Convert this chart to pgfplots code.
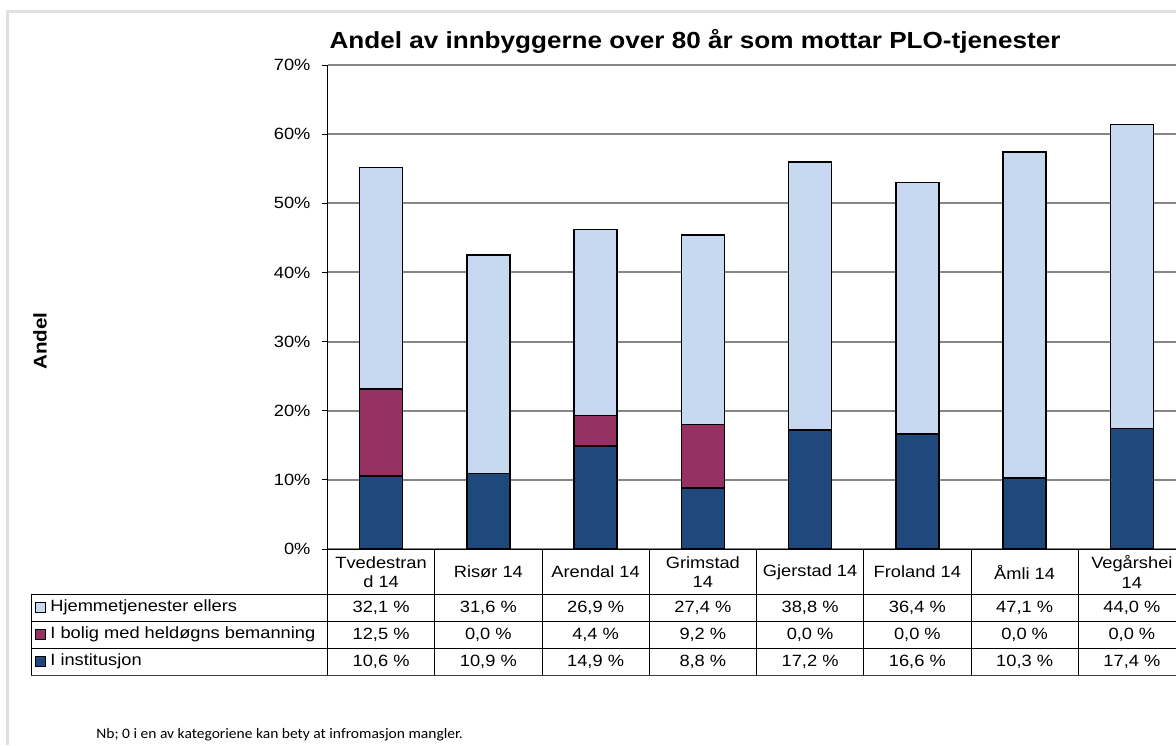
\documentclass[border=0pt]{standalone}
\usepackage{pgfplots}
\pgfplotsset{compat=1.18}
\usepackage{fontspec}
\setmainfont{Liberation Sans}[FakeStretch=1.12]
\newfontfamily\notefont{Carlito}[FakeStretch=1.07]

\definecolor{inst}{HTML}{1F497D}
\definecolor{bolig}{HTML}{953163}
\definecolor{hjem}{HTML}{C6D9F1}
\definecolor{framec}{HTML}{E0E0E0}
\definecolor{gridc}{HTML}{868686}

% andel av innbyggere over 80 (prosent)
\pgfplotstableread{
x inst bolig hjem
0 10.6 12.5 32.1
1 10.9 0.0 31.6
2 14.9 4.4 26.9
3 8.8 9.2 27.4
4 17.2 0.0 38.8
5 16.6 0.0 36.4
6 10.3 0.0 47.1
7 17.4 0.0 44.0
}\plodata

\newcommand{\bodyfont}{\fontsize{8.15}{9.6}\selectfont}

\begin{document}
\begin{tikzpicture}[x=0.5pt,y=0.5pt]
\useasboundingbox (0,0) rectangle (1176,745);
\fill[white] (0,0) rectangle (1176,745);
\draw[framec, line width=1.2pt] (7.5,0) -- (7.5,733.5) -- (1176,733.5);

\node[font=\fontsize{11.65}{14}\selectfont\bfseries, anchor=base] at (695,745-49)
  {Andel av innbyggerne over 80 år som mottar PLO-tjenester};
\node[font=\fontsize{9.2}{11}\selectfont\bfseries, rotate=90] at (40,745-341) {Andel};

\coordinate (O) at (327.5,196);

\begin{axis}[
    at={(O)}, anchor=south west,
    scale only axis,
    width=429pt, height=242pt,
    xmin=-0.5, xmax=7.5,
    ymin=0, ymax=70,
    ybar stacked,
    bar width=21.5pt,
    xtick=\empty,
    ytick={0,10,...,70},
    yticklabel={\pgfmathprintnumber{\tick}\%},
    /pgf/number format/assume math mode=true,
    ticklabel style={font=\bodyfont},
    yticklabel style={xshift=-2pt},
    ytick pos=left,
    tick align=outside,
    major tick length=3pt,
    tick style={black, line width=0.5pt},
    ymajorgrids,
    grid style={gridc, line width=1pt},
    axis line style={black, line width=0.5pt},
    axis x line*=bottom,
    axis y line*=left,
    clip=false,
]
\addplot[fill=inst, draw=black, line width=0.8pt] table[x=x, y=inst] {\plodata};
\addplot[fill=bolig, draw=black, line width=0.8pt] table[x=x, y=bolig] {\plodata};
\addplot[fill=hjem, draw=black, line width=0.8pt] table[x=x, y=hjem] {\plodata};
\end{axis}

% datatabell under diagrammet
\begin{scope}[line width=0.5pt]
\foreach \i in {0,...,8}
  \draw (327.5+\i*107.25, 745-549) -- (327.5+\i*107.25, 745-675);
\foreach \yy in {594,621,648}
  \draw (31,745-\yy) -- (1176,745-\yy);
\draw[line width=0.8pt, black!75] (31,745-675.5) -- (1176,745-675.5);
\draw (31,745-594) -- (31,745-675);
\end{scope}

\foreach \name [count=\i from 0] in {{Tvedestran\\d 14},{Risør 14},{Arendal 14},{Grimstad\\14},{Gjerstad 14},{Froland 14},{Åmli 14},{Vegårshei\\14}}
  \node[font=\bodyfont, align=center, inner sep=0pt] at (327.5+107.25*\i+53.6, 745-572) {\name};

\foreach \v [count=\i from 0] in {{32,1 \%},{31,6 \%},{26,9 \%},{27,4 \%},{38,8 \%},{36,4 \%},{47,1 \%},{44,0 \%}}
  \node[font=\bodyfont, inner sep=0pt] at (327.5+107.25*\i+53.6, 745-607.5) {\v};
\foreach \v [count=\i from 0] in {{12,5 \%},{0,0 \%},{4,4 \%},{9,2 \%},{0,0 \%},{0,0 \%},{0,0 \%},{0,0 \%}}
  \node[font=\bodyfont, inner sep=0pt] at (327.5+107.25*\i+53.6, 745-634.5) {\v};
\foreach \v [count=\i from 0] in {{10,6 \%},{10,9 \%},{14,9 \%},{8,8 \%},{17,2 \%},{16,6 \%},{10,3 \%},{17,4 \%}}
  \node[font=\bodyfont, inner sep=0pt] at (327.5+107.25*\i+53.6, 745-661.5) {\v};

\filldraw[fill=hjem, draw=black, line width=0.5pt] (35.5,745-602.5) rectangle (45.5,745-612.5);
\filldraw[fill=bolig, draw=black, line width=0.5pt] (35.5,745-629.5) rectangle (45.5,745-639.5);
\filldraw[fill=inst, draw=black, line width=0.5pt] (35.5,745-656.5) rectangle (45.5,745-666.5);
\node[font=\bodyfont, anchor=west, inner sep=0pt] at (50,745-607.5) {Hjemmetjenester ellers};
\node[font=\bodyfont, anchor=west, inner sep=0pt] at (50,745-634.5) {I bolig med heldøgns bemanning};
\node[font=\bodyfont, anchor=west, inner sep=0pt] at (50,745-661.5) {I institusjon};

\node[font=\notefont\fontsize{7.25}{9}\selectfont, anchor=base west, inner sep=0pt] at (96,745-738)
  {Nb; 0 i en av kategoriene kan bety at infromasjon mangler.};
\end{tikzpicture}
\end{document}
